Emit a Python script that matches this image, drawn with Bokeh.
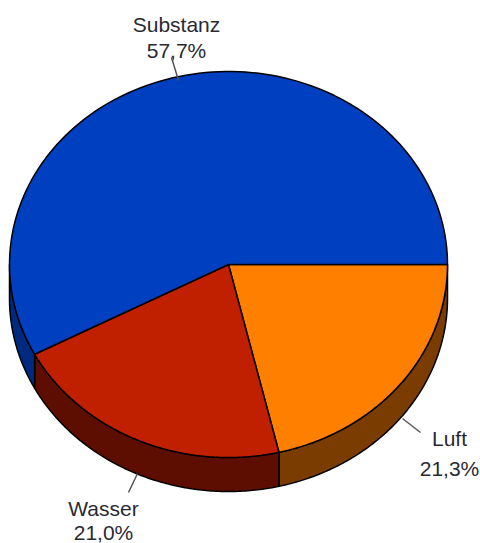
import numpy as np
from bokeh.plotting import figure
from bokeh.models import Range1d
from bokeh.embed import file_html
from bokeh.resources import INLINE
from bokeh.core.properties import value

labels = ["Luft", "Wasser", "Substanz"]
percents = [21.3, 21.0, 57.7]
pct_text = ["21,3%", "21,0%", "57,7%"]
top_colors = ["#FF8000", "#C02000", "#0040C0"]
side_colors = ["#7A3C00", "#5E0E00", "#002A80"]

W, H = 480, 543
p = figure(width=W, height=H, x_range=Range1d(0, W), y_range=Range1d(H, 0),
           output_backend="svg", toolbar_location=None, min_border=0)
p.axis.visible = False
p.grid.visible = False
p.outline_line_color = None

cx, cy, rx, ry, depth = 228, 264, 219, 193, 34

def arc(a0, a1, n=120):
    t = np.radians(np.linspace(a0, a1, n))
    return cx + rx * np.cos(t), cy + ry * np.sin(t)

fr = np.array(percents) / sum(percents) * 360.0
ends = np.cumsum(fr)
starts = ends - fr

# side walls (visible front half: 0..180 deg, screen y down)
for s, e, c in zip(starts, ends, side_colors):
    vs, ve = max(s, 0), min(e, 180)
    if ve <= vs:
        continue
    xs, ys = arc(vs, ve)
    px = np.concatenate([xs, xs[::-1]])
    py = np.concatenate([ys, (ys + depth)[::-1]])
    p.patch(px, py, fill_color=c, line_color="black", line_width=1.5)

# top faces
for s, e, c in zip(starts, ends, top_colors):
    xs, ys = arc(s, e)
    px = np.concatenate([[cx], xs, [cx]])
    py = np.concatenate([[cy], ys, [cy]])
    p.patch(px, py, fill_color=c, line_color="black", line_width=1.5)

# labels
lab_x = [449, 103, 176]
lab_y1 = [438, 508, 24]
lab_y2 = [468, 532, 50]
font = value("Liberation Sans")
p.text(x=lab_x, y=lab_y1, text=labels, text_font=font, text_font_size="21px",
       text_align="center", text_baseline="middle", text_color="#2a2a33")
p.text(x=lab_x, y=lab_y2, text=pct_text, text_font=font, text_font_size="21px",
       text_align="center", text_baseline="middle", text_color="#2a2a33")

# leader lines
p.segment(x0=[402, 137, 171], y0=[418, 473, 57], x1=[420, 128, 178], y1=[432, 492, 80],
          line_color="#555555", line_width=1.5)

open("out.html", "w").write(file_html(p, INLINE))
